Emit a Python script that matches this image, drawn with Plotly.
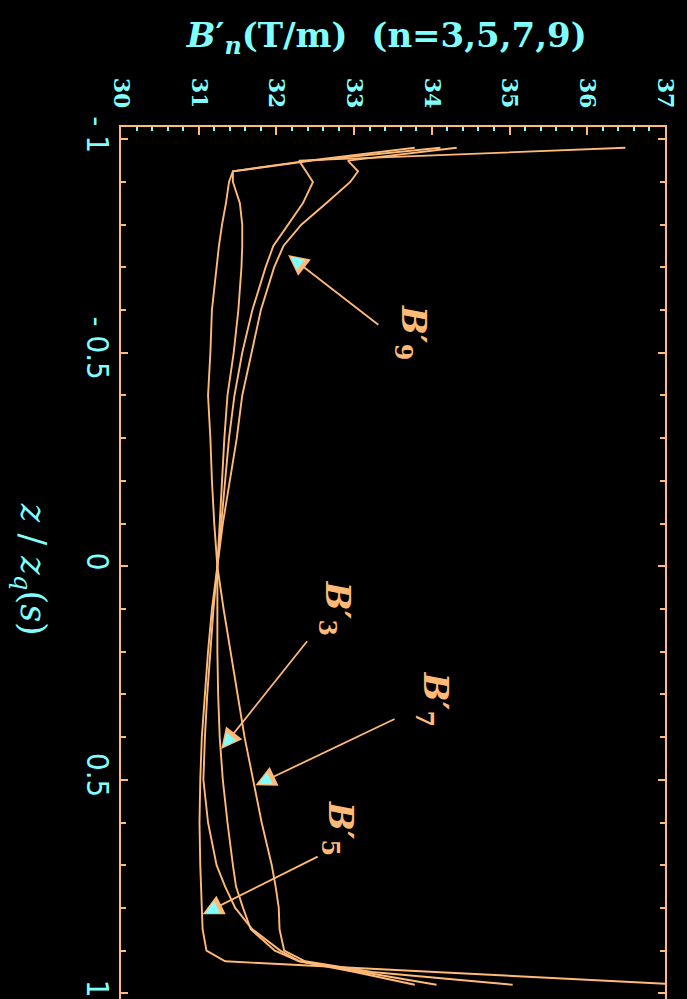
import math
import plotly.graph_objects as go

# ---------------- data ----------------
z_vals = [-0.98, -0.95, -0.925, -0.9, -0.85, -0.8, -0.75, -0.7, -0.6, -0.5, -0.4, -0.3, -0.2, -0.1,
          0.0, 0.1, 0.2, 0.3, 0.4, 0.5, 0.6, 0.7, 0.75, 0.8, 0.85, 0.9, 0.925, 0.95, 0.98]

b3 = [33.78, 32.41, 31.44, 31.44, 31.53, 31.56, 31.56, 31.55, 31.51, 31.45, 31.37, 31.33, 31.30, 31.27,
      31.24, 31.24, 31.24, 31.25, 31.27, 31.31, 31.37, 31.44, 31.48, 31.57, 31.67, 31.98, 32.29, 33.10, 34.06]

b5 = [36.49, 32.29, 32.38, 32.47, 32.34, 32.15, 31.96, 31.86, 31.69, 31.56, 31.46, 31.39, 31.34, 31.29,
      31.24, 31.17, 31.12, 31.08, 31.04, 31.02, 31.01, 31.02, 31.03, 31.04, 31.05, 31.10, 31.34, 34.04, 37.25]

b7 = [34.11, 32.46, 31.44, 31.39, 31.35, 31.30, 31.26, 31.23, 31.17, 31.15, 31.12, 31.15, 31.17, 31.20,
      31.24, 31.32, 31.41, 31.50, 31.59, 31.70, 31.81, 31.94, 31.99, 32.03, 32.04, 32.10, 32.37, 33.23, 35.04]

b9 = [34.32, 32.92, 33.05, 32.95, 32.64, 32.32, 32.09, 31.97, 31.80, 31.68, 31.56, 31.49, 31.40, 31.31,
      31.24, 31.19, 31.15, 31.11, 31.08, 31.06, 31.12, 31.23, 31.34, 31.47, 31.69, 32.05, 32.30, 33.01, 33.78]

x_tickvals = [30, 31, 32, 33, 34, 35, 36, 37]
x_ticktext = ["30", "31", "32", "33", "34", "35", "36", "37"]
y_tickvals = [-1, -0.5, 0, 0.5, 1]
y_ticktext = ["- 1", "- 0.5", "0", "0.5", "1"]

# annotation geometry (label index, arrow tip, arrow tail, label centre) in data units
label_names = ["9", "3", "7", "5"]
arrow_tips = [(32.15, -0.729), (31.29, 0.428), (31.73, 0.513), (31.05, 0.815)]
arrow_tails = [(33.33, -0.563), (32.41, 0.172), (33.54, 0.356), (32.55, 0.678)]
label_pos = [(33.74, -0.547), (32.77, 0.098), (34.02, 0.311), (32.80, 0.614)]

ORANGE = "#FFBA78"
CYAN = "#80FFFF"

FIG_H = 1012          # taller than the window: the bottom frame is cut off, as in the reference
TOP = 127
X_RANGE = [30, 37]
PX_PER_Z = 428.0
Y_TOP = -1.0287
Y_BOTTOM = Y_TOP + (FIG_H - TOP) / PX_PER_Z
Y_RANGE = [Y_BOTTOM, Y_TOP]
PX_X = 544.5 / (X_RANGE[1] - X_RANGE[0])

fig = go.Figure()
for series in (b3, b5, b7, b9):
    fig.add_trace(go.Scatter(x=series, y=z_vals, mode="lines",
                             line=dict(color=ORANGE, width=1.9),
                             hoverinfo="skip", showlegend=False))

annotations = []
for name, tip, tail, lp in zip(label_names, arrow_tips, arrow_tails, label_pos):
    annotations.append(dict(x=tip[0], y=tip[1], ax=tail[0], ay=tail[1],
                            xref="x", yref="y", axref="x", ayref="y",
                            text="", showarrow=True, arrowhead=2, arrowsize=2.3,
                            arrowwidth=1.8, arrowcolor=ORANGE, standoff=0))
    # cyan inner fill of the arrow head
    dxp = (tail[0] - tip[0]) * PX_X
    dyp = (tail[1] - tip[1]) * PX_PER_Z
    length = math.hypot(dxp, dyp)
    frac = 13.0 / length
    annotations.append(dict(x=tip[0], y=tip[1],
                            ax=tip[0] + (tail[0] - tip[0]) * frac,
                            ay=tip[1] + (tail[1] - tip[1]) * frac,
                            xref="x", yref="y", axref="x", ayref="y",
                            text="", showarrow=True, arrowhead=2, arrowsize=2.6,
                            arrowwidth=1.0, arrowcolor=CYAN, standoff=3))
    annotations.append(dict(x=lp[0], y=lp[1], xref="x", yref="y",
                            xanchor="center", yanchor="middle",
                            text="<i>B</i>′<sub>" + name + "</sub>", showarrow=False,
                            textangle=90,
                            font=dict(family="DejaVu Serif", size=34, color=ORANGE, weight="bold")))

# y-axis title (rotated clockwise, like the reference)
annotations.append(dict(x=-0.167, y=1 - (570 - TOP) / (FIG_H - TOP), xref="paper", yref="paper",
                        xanchor="center", yanchor="middle",
                        text="<i>z</i> / <i>z</i><sub><i>q</i></sub>(<i>s</i>)",
                        showarrow=False, textangle=90,
                        font=dict(family="DejaVu Serif", size=35, color=CYAN)))

fig.update_layout(
    width=687, height=FIG_H,
    margin=dict(l=121, r=21.5, t=TOP, b=0, pad=0),
    paper_bgcolor="black", plot_bgcolor="black",
    title=dict(text="<i>B</i>′<sub><i>n</i></sub>(T/m)  (n=3,5,7,9)",
               x=0.563, xanchor="center", xref="container",
               y=1 - 35.0 / FIG_H, yanchor="middle", yref="container",
               font=dict(family="DejaVu Serif", size=34, color=CYAN, weight="bold")),
    annotations=annotations,
    xaxis=dict(side="top", range=X_RANGE, autorange=False,
               tickvals=x_tickvals, ticktext=x_ticktext, tickangle=90,
               tickfont=dict(family="DejaVu Serif", size=22, color=CYAN, weight="bold"),
               ticks="inside", ticklen=8, tickwidth=1.5, tickcolor=ORANGE,
               minor=dict(dtick=0.2, tick0=30, ticks="inside", ticklen=4, tickwidth=1.5, tickcolor=CYAN),
               showline=True, linecolor=ORANGE, linewidth=2, mirror="ticks",
               showgrid=False, zeroline=False, ticklabelstandoff=9),
    yaxis=dict(range=Y_RANGE, autorange=False,
               tickvals=y_tickvals, ticktext=y_ticktext, tickangle=90,
               tickfont=dict(family="Liberation Sans Narrow, DejaVu Sans Condensed, Liberation Sans",
                             size=31, color=CYAN),
               ticks="inside", ticklen=7, tickwidth=1.5, tickcolor=ORANGE,
               minor=dict(dtick=0.1, tick0=0, ticks="inside", ticklen=5, tickwidth=1.5, tickcolor=ORANGE),
               showline=True, linecolor=ORANGE, linewidth=2, mirror="ticks",
               showgrid=False, zeroline=False, ticklabelstandoff=-5),
)

fig.write_html("out.html", config={"displayModeBar": False},
               post_script="document.body.style.margin='0';document.body.style.background='black';"
                           "document.body.style.overflow='hidden';")
